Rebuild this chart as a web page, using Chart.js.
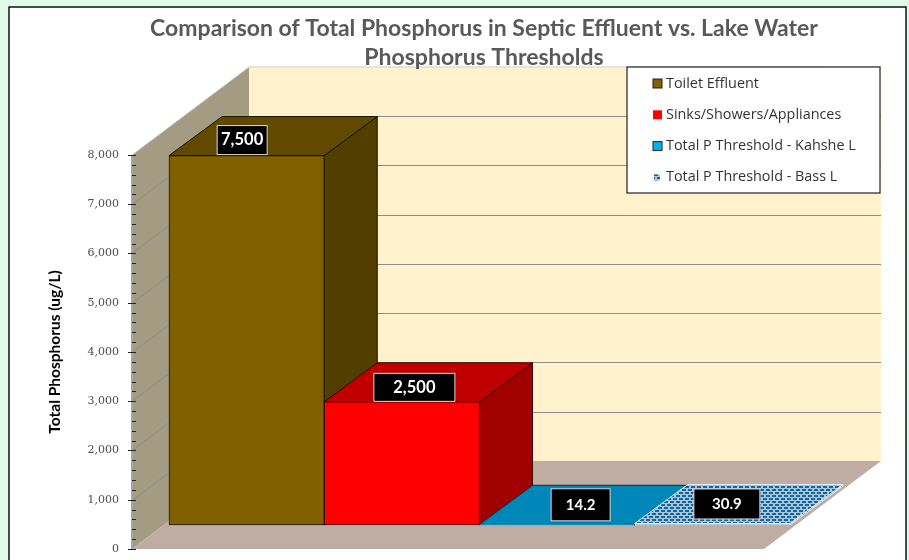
<!DOCTYPE html>
<html>
<head>
<meta charset="utf-8">
<style>
  body { margin: 0; background: #dffaeb; }
  canvas { display: block; }
</style>
<script src="https://cdn.jsdelivr.net/npm/chart.js@4"></script>
</head>
<body>
<canvas id="chart" width="909" height="560"></canvas>
<script>
var categories = [''];
var seriesNames = ['Toilet Effluent', 'Sinks/Showers/Appliances', 'Total P Threshold - Kahshe L', 'Total P Threshold - Bass L'];
var toiletEffluent = [7500];
var sinksShowers = [2500];
var kahsheThreshold = [14.2];
var bassThreshold = [30.9];
var titleLines = ['Comparison of Total Phosphorus in Septic Effluent vs. Lake Water', 'Phosphorus Thresholds'];
var yAxisTitle = 'Total Phosphorus (ug/L)';

// 3D look: how far the walls and the bars sit behind the axis plane
var wallDepth = { x: 117, y: -88 };
var barOffset = { x: 37, y: -24 };
var barDepth = { x: 53, y: -39 };
var floorExtra = 11;

function makePattern() {
	var c = document.createElement('canvas');
	c.width = 6; c.height = 6;
	var g = c.getContext('2d');
	g.fillStyle = '#a9c6da';
	g.fillRect(0, 0, 6, 6);
	g.fillStyle = '#16669e';
	g.fillRect(0, 0, 4, 2);
	g.fillRect(3, 3, 4, 2);
	g.fillRect(0, 3, 1, 2);
	return g.createPattern(c, 'repeat');
}

var bassPattern = makePattern();
var frontColors = ['#806000', '#ff0000', '#00b0f0', bassPattern];
var topColors = ['#614900', '#c00000', '#0087b9', bassPattern];
var sideColors = ['#523f00', '#a00000', '#00658a', bassPattern];
var edgeColors = ['#1a1400', '#400000', '#222222', '#e8f0f6'];
// label box placement relative to the middle of the bar's top face
var labelBoxes = [
	{ dx: -31, dy: 4, w: 50, h: 29, size: 16.5 },
	{ dx: -14, dy: 5, w: 81, h: 28, size: 16.5 },
	{ dx: -3, dy: 0, w: 59, h: 32, size: 15 },
	{ dx: -12, dy: 0, w: 66, h: 30, size: 15 }
];

function poly(ctx, pts, fill, stroke) {
	ctx.beginPath();
	ctx.moveTo(pts[0][0], pts[0][1]);
	for (var i = 1; i < pts.length; i++) { ctx.lineTo(pts[i][0], pts[i][1]); }
	ctx.closePath();
	ctx.fillStyle = fill;
	ctx.fill();
	if (stroke) {
		ctx.strokeStyle = stroke;
		ctx.lineWidth = 1;
		ctx.stroke();
	}
}

var box3d = {
	id: 'box3d',
	afterLayout: function (chart) {
		// title sits right of the canvas middle in the original
		chart.titleBlock.left += 84.5;
		chart.titleBlock.right += 84.5;
	},
	beforeDraw: function (chart) {
		var ctx = chart.ctx;
		var a = chart.chartArea;
		var y = chart.scales.y;
		var top = y.getPixelForValue(8000);
		var bottom = y.getPixelForValue(0);
		var dx = wallDepth.x, dy = wallDepth.y;
		var right = a.right + floorExtra;

		// white frame
		ctx.save();
		ctx.fillStyle = '#ffffff';
		ctx.fillRect(9, 7, 897, 560);
		ctx.strokeStyle = '#111111';
		ctx.lineWidth = 1.5;
		ctx.strokeRect(9, 7, 897, 560);

		// walls and floor
		poly(ctx, [[a.left + dx, top + dy], [right + dx, top + dy], [right + dx, bottom + dy], [a.left + dx, bottom + dy]], '#fff2cc');
		poly(ctx, [[a.left, top], [a.left + dx, top + dy], [a.left + dx, bottom + dy], [a.left, bottom]], '#a39b82');
		poly(ctx, [[a.left, bottom], [right, bottom], [right + dx, bottom + dy], [a.left + dx, bottom + dy]], '#bfaca2');

		// gridlines run across side wall and back wall
		ctx.strokeStyle = '#8c8c8c';
		ctx.lineWidth = 1;
		y.ticks.forEach(function (t) {
			if (t.value === 0 || t.value === 8000) { return; }
			var p = Math.round(y.getPixelForValue(t.value)) + 0.5;
			ctx.beginPath();
			ctx.moveTo(a.left, p);
			ctx.lineTo(a.left + dx, p + dy);
			ctx.lineTo(right + dx, p + dy);
			ctx.stroke();
		});
		ctx.strokeStyle = '#d0d0d0';
		ctx.beginPath();
		ctx.moveTo(a.left, top);
		ctx.lineTo(a.left + dx, top + dy);
		ctx.lineTo(right + dx, top + dy);
		ctx.stroke();

		// axis line with major and minor ticks
		ctx.strokeStyle = '#a6a6a6';
		ctx.lineWidth = 2;
		ctx.beginPath();
		ctx.moveTo(a.left, top);
		ctx.lineTo(a.left, bottom);
		ctx.stroke();
		ctx.strokeStyle = '#222222';
		ctx.lineWidth = 1;
		for (var v = 0; v <= 8000; v += 200) {
			var tp = Math.round(y.getPixelForValue(v)) + 0.5;
			ctx.beginPath();
			ctx.moveTo(a.left - (v % 1000 === 0 ? 4 : 0), tp);
			ctx.lineTo(a.left + 4, tp);
			ctx.stroke();
		}
		ctx.restore();
	},
	beforeDatasetsDraw: function (chart) {
		var ctx = chart.ctx;
		ctx.save();
		ctx.translate(barOffset.x, barOffset.y);
		// side and top faces, left to right so later bars cover earlier ones
		chart.data.datasets.forEach(function (ds, i) {
			var bar = chart.getDatasetMeta(i).data[0];
			var l = bar.x - bar.width / 2, r = bar.x + bar.width / 2;
			var t = bar.y, b = bar.base;
			var dx = barDepth.x, dy = barDepth.y;
			poly(ctx, [[r, t], [r + dx, t + dy], [r + dx, b + dy], [r, b]], sideColors[i], edgeColors[i]);
			poly(ctx, [[l, t], [r, t], [r + dx, t + dy], [l + dx, t + dy]], topColors[i], edgeColors[i]);
		});
	},
	afterDatasetsDraw: function (chart) {
		var ctx = chart.ctx;
		ctx.restore();

		// value labels
		chart.data.datasets.forEach(function (ds, i) {
			var bar = chart.getDatasetMeta(i).data[0];
			var cx = bar.x + barOffset.x + barDepth.x / 2;
			var cy = bar.y + barOffset.y + barDepth.y / 2;
			var box = labelBoxes[i];
			var bx = cx + box.dx - box.w / 2, by = cy + box.dy - box.h / 2;
			ctx.fillStyle = '#000000';
			ctx.fillRect(bx, by, box.w, box.h);
			ctx.strokeStyle = '#d9d9d9';
			ctx.lineWidth = 1;
			ctx.strokeRect(bx, by, box.w, box.h);
			ctx.fillStyle = '#ffffff';
			ctx.font = 'bold ' + box.size + 'px Lato';
			ctx.textAlign = 'center';
			ctx.textBaseline = 'middle';
			ctx.fillText(ds.data[0].toLocaleString('en-US'), bx + box.w / 2, by + box.h / 2);
		});

		// legend panel
		var lx = 627, ly = 67, lw = 253, lh = 126;
		ctx.fillStyle = '#ffffff';
		ctx.fillRect(lx, ly, lw, lh);
		ctx.strokeStyle = '#222222';
		ctx.lineWidth = 1.2;
		ctx.strokeRect(lx, ly, lw, lh);
		ctx.font = '14.4px "Open Sans"';
		ctx.textAlign = 'left';
		ctx.textBaseline = 'middle';
		chart.data.datasets.forEach(function (ds, i) {
			var ey = ly + 16.5 + i * 31.3;
			var sw = i === 3 ? 6 : 9;
			ctx.fillStyle = frontColors[i];
			ctx.fillRect(lx + 26 + (i === 3 ? 1 : 0), ey - sw / 2, sw, sw);
			if (i === 0 || i === 2) {
				ctx.strokeStyle = '#222222';
				ctx.lineWidth = 1;
				ctx.strokeRect(lx + 26, ey - 4.5, 9, 9);
			}
			ctx.fillStyle = '#333333';
			ctx.fillText(ds.label, lx + 39, ey);
		});
	}
};

new Chart(document.getElementById('chart'), {
	type: 'bar',
	data: {
		labels: categories,
		datasets: [toiletEffluent, sinksShowers, kahsheThreshold, bassThreshold].map(function (vals, i) {
			return {
				label: seriesNames[i],
				data: vals,
				backgroundColor: frontColors[i],
				borderColor: edgeColors[i],
				borderWidth: 1,
				borderSkipped: false,
				categoryPercentage: 1,
				barPercentage: 1,
				clip: false
			};
		})
	},
	options: {
		responsive: false,
		animation: false,
		layout: { autoPadding: false, padding: { left: 46, right: 156, top: 14, bottom: 11 } },
		plugins: {
			legend: { display: false },
			tooltip: { enabled: false },
			title: {
				display: true,
				text: titleLines,
				color: '#595959',
				font: { family: 'Lato', size: 23, weight: 'bold', lineHeight: 1.26 },
				padding: { top: 0, bottom: 83 }
			}
		},
		scales: {
			x: {
				display: false,
				grid: { drawTicks: false },
				afterFit: function (scale) { scale.height = 0; }
			},
			y: {
				min: 0,
				max: 8000,
				afterFit: function (scale) {
					scale.width = 86;
					// tick padding would otherwise eat into the bottom margin
					scale.paddingTop = 0;
					scale.paddingBottom = 0;
				},
				grid: { display: false, drawTicks: false },
				border: { display: false },
				ticks: {
					stepSize: 1000,
					padding: 13,
					color: '#4d4d4d',
					font: { family: 'DejaVu Serif', size: 11 },
					callback: function (v) { return v.toLocaleString('en-US'); }
				},
				title: {
					display: true,
					text: yAxisTitle,
					color: '#000000',
					font: { family: 'Lato', size: 15.5, weight: 'bold' },
					padding: { top: 0, bottom: 0 }
				}
			}
		}
	},
	plugins: [box3d]
});
</script>
</body>
</html>
